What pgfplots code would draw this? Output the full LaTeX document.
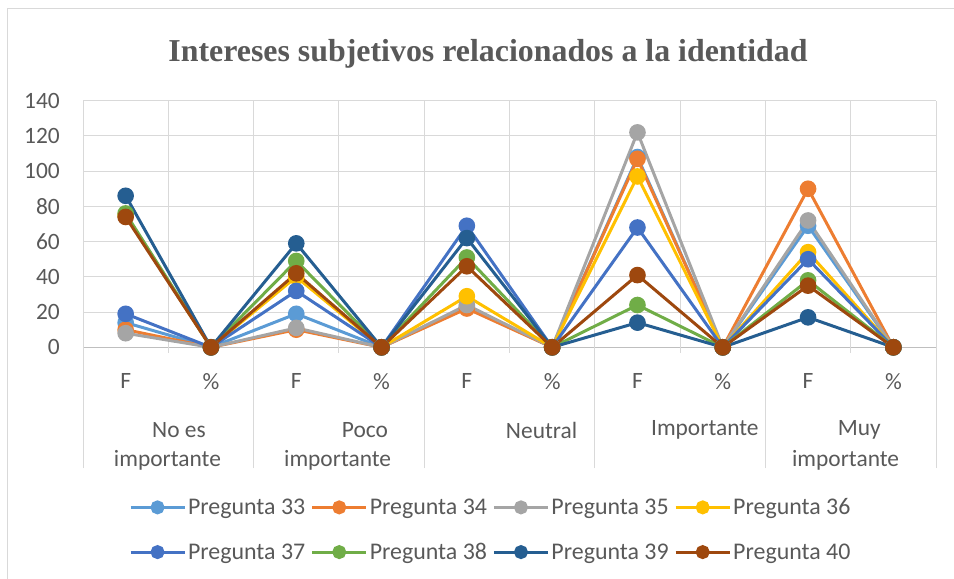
\documentclass[border=0pt]{standalone}
\usepackage{pgfplots}
\pgfplotsset{compat=1.18}
\usepackage{fontspec}
\setmainfont{Carlito}
\newfontfamily\titlefont{Liberation Serif}
\definecolor{cA}{HTML}{5B9BD5}
\definecolor{cB}{HTML}{ED7D31}
\definecolor{cC}{HTML}{A5A5A5}
\definecolor{cD}{HTML}{FFC000}
\definecolor{cE}{HTML}{4472C4}
\definecolor{cF}{HTML}{70AD47}
\definecolor{cG}{HTML}{255E91}
\definecolor{cH}{HTML}{9E480E}
\definecolor{txt}{HTML}{595959}
\definecolor{grd}{HTML}{D9D9D9}
\definecolor{axl}{HTML}{BFBFBF}

\pgfplotstableread{
x p33 p34 p35 p36 p37 p38 p39 p40
0 14 10 8 75 19 76 86 74
1 0 0 0 0 0 0 0 0
2 19 10 11 40 32 49 59 42
3 0 0 0 0 0 0 0 0
4 23 22 24 29 69 51 62 46
5 0 0 0 0 0 0 0 0
6 108 107 122 97 68 24 14 41
7 0 0 0 0 0 0 0 0
8 69 90 72 54 50 38 17 35
9 0 0 0 0 0 0 0 0
}\datatable

\begin{document}
\begin{tikzpicture}[x=1bp,y=1bp]
\path[use as bounding box] (0,0) rectangle (954,579);
\draw[grd, line width=1bp] (7,0) -- (7,570) -- (954,570);
\node[font=\titlefont\bfseries\fontsize{32}{36}\selectfont, text=txt] at (488,525) {Intereses subjetivos relacionados a la identidad};
\begin{axis}[
  at={(83bp,231.7bp)}, anchor=south west,
  scale only axis, width=853bp, height=246.6bp,
  xmin=-0.5, xmax=9.5, ymin=0, ymax=140,
  ytick={0,20,...,140},
  xtick={0,...,9},
  xticklabels={F,\%,F,\%,F,\%,F,\%,F,\%},
  major tick length=0pt,
  axis line style={draw=none},
  ymajorgrids, grid style={grd, line width=1bp},
  ticklabel style={font=\fontsize{23.5}{28}\selectfont, text=txt},
  /pgf/number format/assume math mode=true,
  yticklabel style={anchor=east, inner sep=0pt, xshift=-23bp},
  xticklabel style={anchor=center, inner sep=0pt, yshift=-34bp},
  clip=false,
  legend columns=4,
  legend style={at={(axis description cs:0.478,-0.74)}, anchor=center,
    draw=none, fill=none, font=\fontsize{24}{28}\selectfont, text=txt,
    /tikz/every even column/.append style={column sep=3.5bp},
    row sep=23bp, inner sep=0pt},
  legend image code/.code={\draw[mark repeat=2,mark phase=2,mark size=5.5bp] plot coordinates {(0bp,0bp) (27bp,0bp) (54bp,0bp)};},
  every axis plot/.append style={line width=3bp, mark=*, mark size=6.8bp},
]
\draw[axl, line width=1bp] (axis cs:-0.5,0) -- (axis cs:9.5,0);
\pgfplotsinvokeforeach{-0.5,1.5,3.5,5.5,7.5,9.5}{
  \draw[grd, line width=1bp] (axis cs:#1,-68.6) -- (axis cs:#1,140);
}
\pgfplotsinvokeforeach{0.5,2.5,4.5,6.5,8.5}{
  \draw[grd, line width=1bp] (axis cs:#1,-3) -- (axis cs:#1,140);
}
\addplot[color=cA, mark options={fill=cA}] table[x=x,y=p33]{\datatable};
\addlegendentry{Pregunta 33}
\addplot[color=cB, mark options={fill=cB}] table[x=x,y=p34]{\datatable};
\addlegendentry{Pregunta 34}
\addplot[color=cC, mark options={fill=cC}] table[x=x,y=p35]{\datatable};
\addlegendentry{Pregunta 35}
\addplot[color=cD, mark options={fill=cD}] table[x=x,y=p36]{\datatable};
\addlegendentry{Pregunta 36}
\addplot[color=cE, mark options={fill=cE}] table[x=x,y=p37]{\datatable};
\addlegendentry{Pregunta 37}
\addplot[color=cF, mark options={fill=cF}] table[x=x,y=p38]{\datatable};
\addlegendentry{Pregunta 38}
\addplot[color=cG, mark options={fill=cG}] table[x=x,y=p39]{\datatable};
\addlegendentry{Pregunta 39}
\addplot[color=cH, mark options={fill=cH}] table[x=x,y=p40]{\datatable};
\addlegendentry{Pregunta 40}
\begin{scope}[font=\fontsize{23.5}{28}\selectfont, text=txt]
\node at (axis cs:0.625,-47) {No es};
\node at (axis cs:0.49,-64) {importante};
\node at (axis cs:2.806,-47) {Poco};
\node at (axis cs:2.485,-64) {importante};
\node at (axis cs:4.876,-47) {Neutral};
\node at (axis cs:6.79,-47) {Importante};
\node at (axis cs:8.6,-47) {Muy};
\node at (axis cs:8.44,-64) {importante};
\end{scope}
\end{axis}
\end{tikzpicture}
\end{document}
